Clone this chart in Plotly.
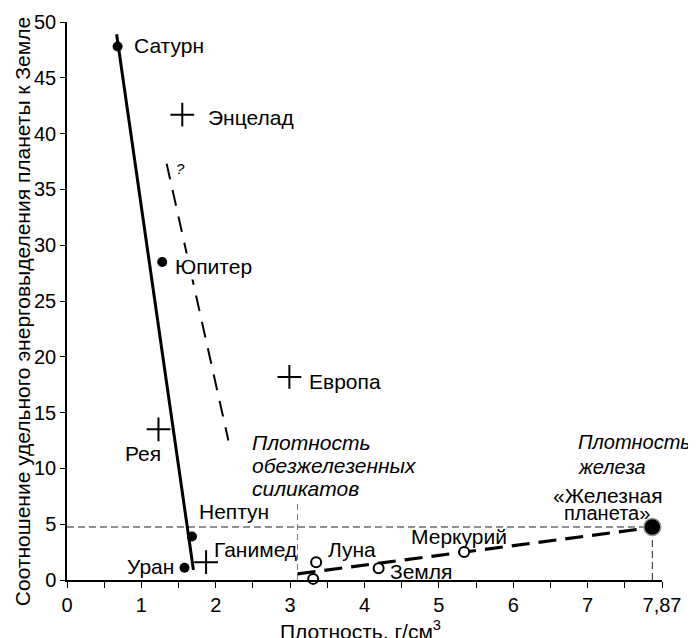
import plotly.graph_objects as go

# ---- data ----
giant_names = ["Сатурн", "Юпитер", "Нептун", "Уран"]
giant_density = [0.68, 1.28, 1.68, 1.58]
giant_ratio = [47.8, 28.5, 3.9, 1.1]

moon_names = ["Энцелад", "Европа", "Рея", "Ганимед"]
moon_density = [1.55, 2.99, 1.23, 1.87]
moon_ratio = [41.7, 18.2, 13.5, 1.6]

rocky_names = ["Марс", "Луна", "Земля", "Меркурий"]
rocky_density = [3.31, 3.35, 4.19, 5.34]
rocky_ratio = [0.1, 1.6, 1.05, 2.5]

iron_density = [7.87]
iron_ratio = [4.75]

giant_trend_x = [0.667, 1.70]
giant_trend_y = [48.9, 0.9]
question_trend_x = [1.34, 2.17]
question_trend_y = [37.3, 12.5]
rocky_trend_x = [3.10, 7.80]
rocky_trend_y = [0.55, 4.65]

silicate_density = 3.10
silicate_line_top = 7.0

x_tickvals = [0, 1, 2, 3, 4, 5, 6, 7, 8]
x_ticktext = ["0", "1", "2", "3", "4", "5", "6", "7", "7,87"]
y_tickvals = [0, 5, 10, 15, 20, 25, 30, 35, 40, 45, 50]

FONT = "Liberation Sans, Arial, sans-serif"
LBL = 21

fig = go.Figure()

# reference dashed lines
fig.add_trace(go.Scatter(x=[0, iron_density[0]], y=[iron_ratio[0], iron_ratio[0]], mode="lines",
                         line=dict(color="#222", width=1, dash="7px,4px"), hoverinfo="skip"))
fig.add_trace(go.Scatter(x=[iron_density[0], iron_density[0]], y=[0, iron_ratio[0]], mode="lines",
                         line=dict(color="#222", width=1, dash="7px,4px"), hoverinfo="skip"))
fig.add_trace(go.Scatter(x=[silicate_density, silicate_density], y=[0, silicate_line_top], mode="lines",
                         line=dict(color="#777", width=1, dash="6px,4px"), hoverinfo="skip"))

# trend lines
fig.add_trace(go.Scatter(x=giant_trend_x, y=giant_trend_y, mode="lines",
                         line=dict(color="black", width=3), hoverinfo="skip"))
fig.add_trace(go.Scatter(x=question_trend_x, y=question_trend_y, mode="lines",
                         line=dict(color="black", width=2, dash="16px,11px"), hoverinfo="skip"))
fig.add_trace(go.Scatter(x=rocky_trend_x, y=rocky_trend_y, mode="lines",
                         line=dict(color="black", width=3.2, dash="18px,9px"), hoverinfo="skip"))

# points
fig.add_trace(go.Scatter(x=giant_density, y=giant_ratio, mode="markers", text=giant_names,
                         marker=dict(color="black", size=10, line=dict(width=0))))
fig.add_trace(go.Scatter(x=moon_density, y=moon_ratio, mode="markers", text=moon_names,
                         marker=dict(symbol="cross-thin", color="black", size=17,
                                     line=dict(color="black", width=2))))
fig.add_trace(go.Scatter(x=rocky_density, y=rocky_ratio, mode="markers", text=rocky_names,
                         marker=dict(color="white", size=10, line=dict(color="black", width=2))))
fig.add_trace(go.Scatter(x=iron_density, y=iron_ratio, mode="markers",
                         marker=dict(color="black", size=17, line=dict(color="#999", width=1.5))))

for tr in fig.data:
    tr.cliponaxis = False

# labels
label_pos = {
    "Сатурн": (0.87, 47.9, "left"),
    "Энцелад": (1.87, 41.4, "left"),
    "Юпитер": (1.42, 28.1, "left"),
    "Европа": (3.23, 17.8, "left"),
    "Рея": (0.75, 11.3, "left"),
    "Нептун": (1.75, 6.1, "left"),
    "Уран": (1.47, 1.25, "right"),
    "Ганимед": (1.95, 2.7, "left"),
    "Луна": (3.48, 2.7, "left"),
    "Марс": (3.09, -1.2, "left"),
    "Земля": (4.31, 0.75, "left"),
    "Меркурий": (4.60, 3.9, "left"),
}
for name, (lx, ly, anc) in label_pos.items():
    fig.add_annotation(x=lx, y=ly, text=name, showarrow=False, xanchor=anc, yanchor="middle",
                       bgcolor="white" if name == "Юпитер" else "rgba(0,0,0,0)",
                       font=dict(family=FONT, size=LBL, color="black"))

fig.add_annotation(x=1.52, y=36.9, text="<i>?</i>", showarrow=False,
                   font=dict(family=FONT, size=15, color="black"))

fig.add_annotation(x=7.28, y=7.55, text="«Железная", showarrow=False, xanchor="center",
                   font=dict(family=FONT, size=LBL, color="black"))
fig.add_annotation(x=7.26, y=6.0, text="планета»", showarrow=False, xanchor="center",
                   font=dict(family=FONT, size=20, color="black"))

for i, t in enumerate(["Плотность", "обезжелезенных", "силикатов"]):
    fig.add_annotation(x=2.46, y=12.35 - i * 2.06, text="<i>" + t + "</i>", showarrow=False,
                       xanchor="left", font=dict(family=FONT, size=LBL, color="black"))
for i, t in enumerate(["Плотность", "железа"]):
    fig.add_annotation(x=6.85, y=12.35 - i * 2.2, text="<i>" + t + "</i>", showarrow=False,
                       xanchor="left", font=dict(family=FONT, size=20, color="black"))

# axis titles
fig.add_annotation(xref="paper", yref="paper", x=0, y=0.48, xshift=-45, textangle=-90,
                   text="Соотношение удельного энерговыделения планеты к Земле", showarrow=False,
                   xanchor="center", yanchor="middle", font=dict(family=FONT, size=21, color="black"))
fig.add_annotation(xref="paper", yref="paper", x=0.494, y=0, yshift=-50,
                   text="Плотность, г/см<sup>3</sup>", showarrow=False,
                   xanchor="center", yanchor="middle", font=dict(family=FONT, size=21, color="black"))

fig.update_layout(
    width=688, height=630,
    margin=dict(l=59, r=34, t=14, b=58, autoexpand=False),
    paper_bgcolor="white", plot_bgcolor="white",
    showlegend=False,
    font=dict(family=FONT, size=20, color="black"),
    xaxis=dict(range=[0, 8], tickvals=x_tickvals, ticktext=x_ticktext, automargin=False,
               showgrid=False, zeroline=False, showline=True, linecolor="black", linewidth=1.5,
               ticks="outside", ticklen=6, tickwidth=1.2, tickcolor="black",
               minor=dict(dtick=0.5, tick0=0, ticks="outside", ticklen=6, tickwidth=1.2, tickcolor="black"),
               tickfont=dict(family=FONT, size=20)),
    yaxis=dict(range=[0, 50], tickvals=y_tickvals, automargin=False,
               showgrid=False, zeroline=False, showline=True, linecolor="black", linewidth=1.5,
               ticks="outside", ticklen=5, tickwidth=1.2, tickcolor="black",
               tickfont=dict(family=FONT, size=20)),
)

fig.write_html("out.html")
